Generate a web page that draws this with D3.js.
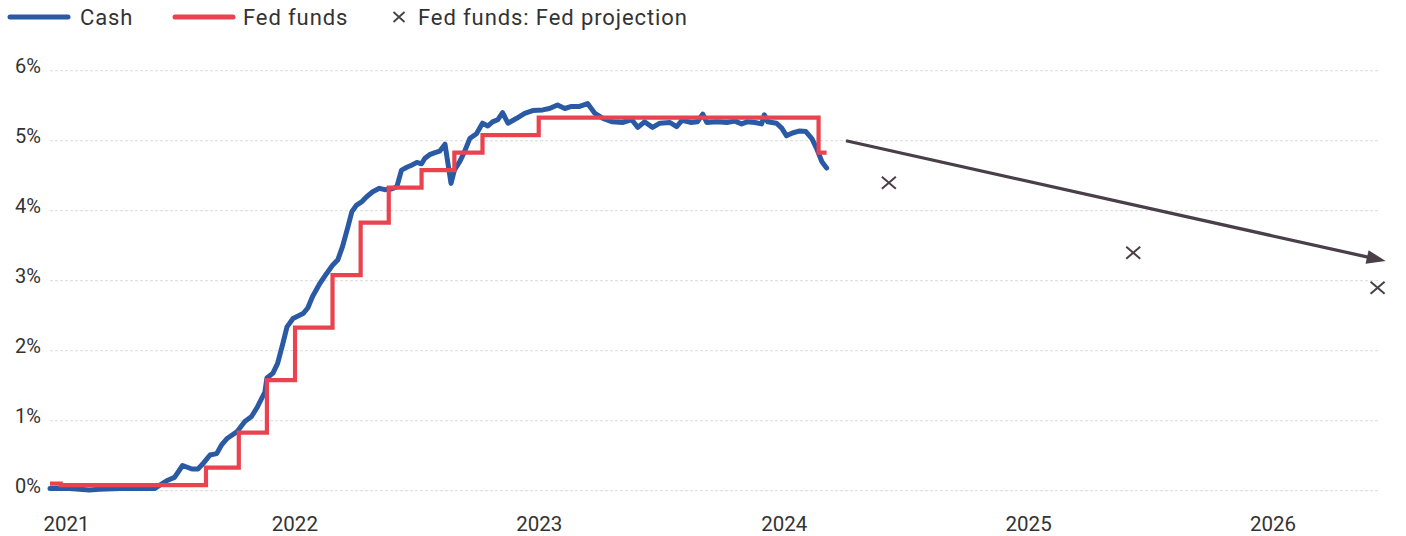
<!DOCTYPE html>
<html>
<head>
<meta charset="utf-8">
<script src="https://cdn.jsdelivr.net/npm/d3@7"></script>
<style>
  body { margin: 0; background: #fff; }
  svg { display: block; }
  text { font-family: Roboto, "Liberation Sans", sans-serif; fill: #333; }
</style>
</head>
<body>
<svg id="chart" width="1406" height="536"></svg>
<script>
// Cash yield (weekly-ish readings), percent
const cashDates = [
  "2021-07-27","2021-08-25","2021-09-24","2021-10-09","2021-11-08","2021-12-08","2021-12-30",
  "2022-01-07","2022-01-19","2022-01-29","2022-02-10","2022-02-24","2022-03-05","2022-03-12",
  "2022-03-23","2022-04-02","2022-04-09","2022-04-18","2022-05-02","2022-05-14","2022-05-24",
  "2022-06-02","2022-06-13","2022-06-16","2022-06-25","2022-07-02","2022-07-10","2022-07-16",
  "2022-07-25","2022-08-09","2022-08-16","2022-08-23","2022-09-03","2022-09-13","2022-09-22",
  "2022-09-30","2022-10-07","2022-10-15","2022-10-21","2022-10-28","2022-11-05","2022-11-12",
  "2022-11-21","2022-12-01","2022-12-09","2022-12-19","2022-12-27","2023-01-03","2023-01-11",
  "2023-01-18","2023-01-26","2023-02-02","2023-02-07","2023-02-14","2023-02-22","2023-03-01",
  "2023-03-09","2023-03-13","2023-03-18","2023-03-23","2023-03-31","2023-04-07","2023-04-15",
  "2023-04-25","2023-05-04","2023-05-12","2023-05-19","2023-05-27","2023-06-03","2023-06-11",
  "2023-06-24","2023-07-06","2023-07-18","2023-08-02","2023-08-12","2023-08-24","2023-09-04",
  "2023-09-14","2023-09-26","2023-10-08","2023-10-19","2023-10-31","2023-11-14","2023-11-29",
  "2023-12-13","2023-12-22","2024-01-01","2024-01-13","2024-01-24","2024-02-08","2024-02-18",
  "2024-02-26","2024-03-11","2024-03-20","2024-03-28","2024-04-03","2024-04-18","2024-05-03",
  "2024-05-15","2024-05-25","2024-06-02","2024-06-14","2024-06-24","2024-06-28","2024-07-03",
  "2024-07-16","2024-07-24","2024-07-31","2024-08-09","2024-08-20","2024-08-29","2024-09-07",
  "2024-09-14","2024-09-22","2024-09-29"
];
const cashValues = [
  0.03,0.03,0.01,0.02,0.03,0.03,0.03,
  0.08,0.15,0.19,0.36,0.31,0.31,0.38,
  0.51,0.53,0.65,0.75,0.84,0.99,1.06,
  1.20,1.41,1.61,1.68,1.82,2.11,2.34,
  2.46,2.53,2.61,2.77,2.96,3.10,3.22,
  3.30,3.49,3.77,3.99,4.08,4.13,4.20,
  4.27,4.32,4.30,4.31,4.34,4.58,4.62,
  4.65,4.69,4.67,4.75,4.80,4.83,4.85,
  4.95,4.70,4.39,4.58,4.70,4.84,5.03,
  5.10,5.25,5.21,5.27,5.30,5.40,5.25,
  5.32,5.39,5.43,5.44,5.46,5.51,5.46,
  5.49,5.49,5.53,5.39,5.32,5.27,5.26,
  5.30,5.19,5.27,5.19,5.25,5.26,5.20,
  5.29,5.26,5.27,5.38,5.26,5.27,5.26,
  5.28,5.24,5.27,5.26,5.24,5.37,5.27,
  5.25,5.18,5.07,5.11,5.14,5.13,5.03,
  4.89,4.70,4.61
];

// Effective fed funds rate, value from each date onward
const fedDates = [
  "2021-07-27","2021-08-12","2022-03-17","2022-05-05","2022-06-16","2022-07-28",
  "2022-09-22","2022-11-03","2022-12-15","2023-02-02","2023-03-23","2023-05-04",
  "2023-07-27","2024-09-17","2024-09-29"
];
const fedValues = [
  0.10,0.08,0.33,0.83,1.58,2.33,
  3.08,3.83,4.33,4.58,4.83,5.08,
  5.33,4.83,4.83
];

// Fed projections for year-end fed funds
const projectionDates = ["2024-12-31","2025-12-31","2026-12-31"];
const projectionValues = [4.4, 3.4, 2.9];

// Trend arrow (date, percent)
const trendStart = ["2024-10-28", 5.0];
const trendEnd = ["2027-01-12", 3.28];

const yTicks = [0, 1, 2, 3, 4, 5, 6];
const yearLabels = ["2021", "2022", "2023", "2024", "2025", "2026"];
const yearLabelDates = ["2021-08-20","2022-07-27","2023-07-27","2024-07-27","2025-07-27","2026-07-27"];

const COLORS = { cash: "#2b5aa5", fed: "#e8434f", ink: "#4a3e48", grid: "#e2e2e2" };

const parse = d3.utcParse("%Y-%m-%d");
const svg = d3.select("#chart");

const x = d3.scaleUtc()
  .domain([parse("2021-07-27"), parse("2026-12-31")])
  .range([50, 1377.6]);
const y = d3.scaleLinear().domain([0, 6]).range([490.7, 70.7]);

// Horizontal dotted gridlines
svg.append("g")
  .selectAll("line")
  .data(yTicks)
  .join("line")
  .attr("x1", 50).attr("x2", 1380)
  .attr("y1", d => y(d)).attr("y2", d => y(d))
  .attr("stroke", COLORS.grid)
  .attr("stroke-width", 1.2)
  .attr("stroke-dasharray", "3,2");

// Y axis labels
svg.append("g")
  .selectAll("text")
  .data(yTicks)
  .join("text")
  .attr("x", 41)
  .attr("y", d => y(d) + 2)
  .attr("text-anchor", "end")
  .attr("font-size", 20)
  .attr("fill", "#3a3a3a")
  .text(d => d + "%");

// X axis year labels
const xAxis = d3.axisBottom(x)
  .tickValues(yearLabelDates.map(parse))
  .tickFormat((d, i) => yearLabels[i])
  .tickSize(0)
  .tickPadding(0);
const xg = svg.append("g").attr("transform", "translate(0,516)").call(xAxis);
xg.select(".domain").remove();
xg.selectAll("text")
  .attr("font-size", 20.5)
  .attr("font-family", "Roboto, sans-serif")
  .attr("fill", "#333")
  .attr("dy", "0.71em");

// Series lines
const cashSeries = cashDates.map((d, i) => ({ date: parse(d), value: cashValues[i] }));
const fedSeries = fedDates.map((d, i) => ({ date: parse(d), value: fedValues[i] }));

const cashLine = d3.line().x(d => x(d.date)).y(d => y(d.value)).curve(d3.curveLinear);
const fedLine = d3.line().x(d => x(d.date)).y(d => y(d.value)).curve(d3.curveStepAfter);

svg.append("path")
  .datum(cashSeries)
  .attr("d", cashLine)
  .attr("fill", "none")
  .attr("stroke", COLORS.cash)
  .attr("stroke-width", 5)
  .attr("stroke-linejoin", "round")
  .attr("stroke-linecap", "round");

svg.append("path")
  .datum(fedSeries)
  .attr("d", fedLine)
  .attr("fill", "none")
  .attr("stroke", COLORS.fed)
  .attr("stroke-width", 4.2)
  .attr("stroke-linejoin", "miter");

// Projection markers
const projections = projectionDates.map((d, i) => ({ date: parse(d), value: projectionValues[i] }));
const cross = svg.append("g").selectAll("g")
  .data(projections)
  .join("g")
  .attr("transform", d => `translate(${x(d.date)},${y(d.value)})`);
cross.append("path")
  .attr("d", "M-7,-6 L7,6 M-7,6 L7,-6")
  .attr("stroke", COLORS.ink)
  .attr("stroke-width", 2)
  .attr("fill", "none");

// Trend arrow
const ax1 = x(parse(trendStart[0])), ay1 = y(trendStart[1]);
const ax2 = x(parse(trendEnd[0])), ay2 = y(trendEnd[1]);
const ang = Math.atan2(ay2 - ay1, ax2 - ax1);
const headLen = 19, headHalf = 7;
const bx = ax2 - headLen * Math.cos(ang), by = ay2 - headLen * Math.sin(ang);
svg.append("line")
  .attr("x1", ax1).attr("y1", ay1)
  .attr("x2", bx + 2 * Math.cos(ang)).attr("y2", by + 2 * Math.sin(ang))
  .attr("stroke", COLORS.ink)
  .attr("stroke-width", 3.2);
svg.append("path")
  .attr("d", `M${ax2},${ay2} L${bx - headHalf * Math.sin(ang)},${by + headHalf * Math.cos(ang)} L${bx + headHalf * Math.sin(ang)},${by - headHalf * Math.cos(ang)} Z`)
  .attr("fill", COLORS.ink);

// Legend
const legend = svg.append("g").attr("transform", "translate(0,17)");
const legendItems = [
  { kind: "line", color: COLORS.cash, label: "Cash", x0: 10, x1: 68, tx: 80 },
  { kind: "line", color: COLORS.fed, label: "Fed funds", x0: 175, x1: 233, tx: 243 },
  { kind: "cross", color: COLORS.ink, label: "Fed funds: Fed projection", x0: 399, tx: 418 }
];
legendItems.forEach(it => {
  if (it.kind === "line") {
    legend.append("line")
      .attr("x1", it.x0).attr("x2", it.x1).attr("y1", 0).attr("y2", 0)
      .attr("stroke", it.color).attr("stroke-width", 5).attr("stroke-linecap", "round");
  } else {
    legend.append("path")
      .attr("d", `M${it.x0 - 5.5},-5 L${it.x0 + 5.5},5 M${it.x0 - 5.5},5 L${it.x0 + 5.5},-5`)
      .attr("stroke", "#444").attr("stroke-width", 1.8).attr("fill", "none");
  }
  legend.append("text")
    .attr("x", it.tx).attr("y", 0).attr("dy", "0.36em")
    .attr("font-size", 22)
    .attr("letter-spacing", 0.9)
    .attr("fill", "#333")
    .text(it.label);
});
</script>
</body>
</html>
